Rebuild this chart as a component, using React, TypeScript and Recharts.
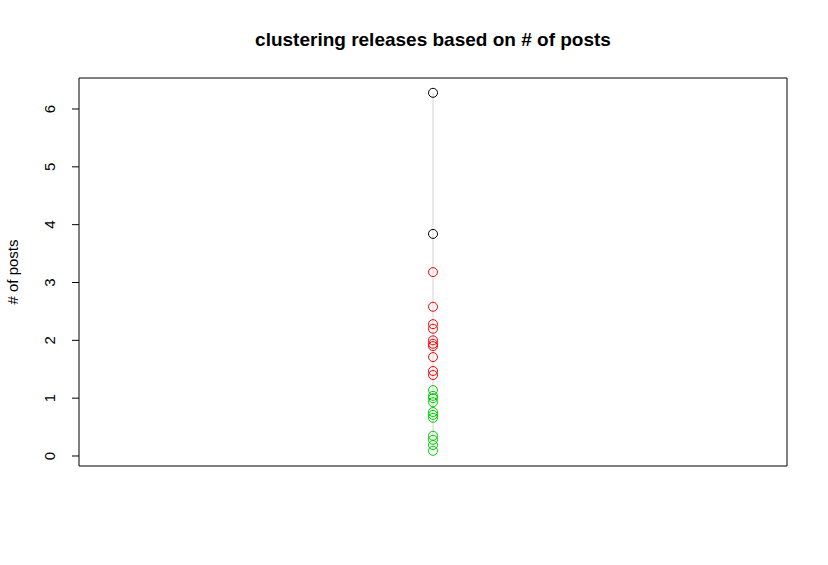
import { ScatterChart, Scatter, XAxis, YAxis, ReferenceArea } from 'recharts';

const blackPosts = [6.28, 3.84];
const redPosts = [3.18, 2.58, 2.28, 2.2, 2.0, 1.94, 1.9, 1.71, 1.47, 1.4];
const greenPosts = [1.14, 1.04, 1.0, 0.93, 0.76, 0.71, 0.66, 0.35, 0.28, 0.19, 0.09];
const yTicks = [0, 1, 2, 3, 4, 5, 6];

const toPoints = (values: number[]) => values.map((posts) => ({ x: 1, posts }));
const allPoints = toPoints([...blackPosts, ...redPosts, ...greenPosts].sort((a, b) => b - a));

const Y_MIN = -0.173;
const Y_MAX = 6.536;

function Ring({ cx, cy, stroke }: { cx?: number; cy?: number; stroke?: string }) {
    return <circle cx={cx} cy={cy} r={4.5} fill="none" stroke={stroke} strokeWidth={1} />;
}

function YTick({ y, payload }: { y?: number; payload?: { value: number } }) {
    const tx = 55;
    return (
        <g>
            <line x1={79} x2={72} y1={y} y2={y} stroke="#000" />
            <text x={tx} y={y} transform={`rotate(-90 ${tx} ${y})`} textAnchor="middle" fontSize={15} fill="#000">
                {payload?.value}
            </text>
        </g>
    );
}

export default function App() {
    return (
        <div style={{ position: 'absolute', left: 0, top: 0, width: 828, height: 565, background: '#fff', fontFamily: 'Liberation Sans, Arial, sans-serif' }}>
            <ScatterChart width={828} height={565} margin={{ top: 78, right: 41, bottom: 99, left: 29 }}>
                <XAxis type="number" dataKey="x" domain={[0.5, 1.5]} hide />
                <YAxis
                    type="number"
                    dataKey="posts"
                    domain={[Y_MIN, Y_MAX]}
                    ticks={yTicks}
                    width={50}
                    axisLine={false}
                    tickLine={false}
                    tick={<YTick />}
                    allowDataOverflow
                />
                <ReferenceArea x1={0.5} x2={1.5} y1={Y_MIN} y2={Y_MAX} fill="none" stroke="#000" strokeWidth={1} ifOverflow="visible" />
                <Scatter data={allPoints} line={{ stroke: '#d3d3d3', strokeWidth: 1 }} shape={() => <g />} isAnimationActive={false} />
                <Scatter data={toPoints(blackPosts)} shape={<Ring stroke="#000" />} isAnimationActive={false} />
                <Scatter data={toPoints(redPosts)} shape={<Ring stroke="#FF0000" />} isAnimationActive={false} />
                <Scatter data={toPoints(greenPosts)} shape={<Ring stroke="#00CD00" />} isAnimationActive={false} />
            </ScatterChart>
            <div style={{ position: 'absolute', left: 79, width: 708, top: 29, textAlign: 'center', fontWeight: 'bold', fontSize: 19 }}>
                clustering releases based on # of posts
            </div>
            <div style={{ position: 'absolute', left: 12, top: 272, transform: 'translate(-50%, -50%) rotate(-90deg)', fontSize: 15, whiteSpace: 'nowrap' }}>
                # of posts
            </div>
        </div>
    );
}
